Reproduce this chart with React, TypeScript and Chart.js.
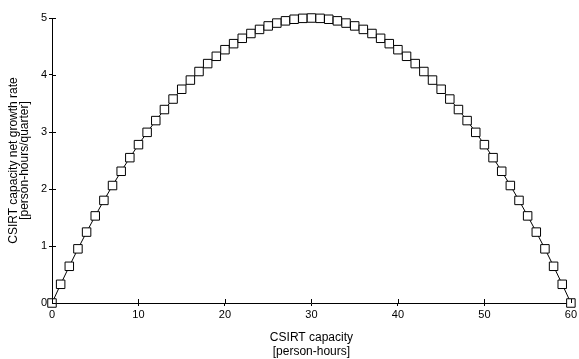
import React, { useEffect, useRef } from "react";
import { Chart, registerables } from "chart.js";

Chart.register(...registerables);

const capacity: number[] = [
  0, 1, 2, 3, 4, 5, 6, 7, 8, 9, 10, 11, 12, 13, 14, 15, 16, 17, 18, 19, 20,
  21, 22, 23, 24, 25, 26, 27, 28, 29, 30, 31, 32, 33, 34, 35, 36, 37, 38, 39, 40,
  41, 42, 43, 44, 45, 46, 47, 48, 49, 50, 51, 52, 53, 54, 55, 56, 57, 58, 59, 60,
];

const growthRate: number[] = [
  0, 0.328, 0.644, 0.95, 1.244, 1.528, 1.8, 2.061, 2.311, 2.55, 2.778,
  2.994, 3.2, 3.394, 3.578, 3.75, 3.911, 4.061, 4.2, 4.328, 4.444,
  4.55, 4.644, 4.728, 4.8, 4.861, 4.911, 4.95, 4.978, 4.994, 5.0,
  4.994, 4.978, 4.95, 4.911, 4.861, 4.8, 4.728, 4.644, 4.55, 4.444,
  4.328, 4.2, 4.061, 3.911, 3.75, 3.578, 3.394, 3.2, 2.994, 2.778,
  2.55, 2.311, 2.061, 1.8, 1.528, 1.244, 0.95, 0.644, 0.328, 0,
];

const xTitle: string[] = ["CSIRT capacity", "[person-hours]"];
const yTitle: string[] = ["CSIRT capacity net growth rate", "[person-hours/quarter]"];

const innerTicks = {
  id: "innerTicks",
  afterDraw(chart: any) {
    const ctx = chart.ctx;
    const xs = chart.scales.x;
    const ys = chart.scales.y;
    ctx.save();
    ctx.strokeStyle = "#000";
    ctx.lineWidth = 1;
    ctx.beginPath();
    xs.ticks.forEach((t: any) => {
      const px = Math.round(xs.getPixelForValue(t.value)) + 0.5;
      ctx.moveTo(px, ys.bottom);
      ctx.lineTo(px, ys.bottom - 4);
    });
    ys.ticks.forEach((t: any) => {
      const py = Math.round(ys.getPixelForValue(t.value)) + 0.5;
      ctx.moveTo(xs.left, py);
      ctx.lineTo(xs.left + 4, py);
    });
    ctx.stroke();
    ctx.restore();
  },
};

export default function App() {
  const ref = useRef<HTMLCanvasElement | null>(null);
  useEffect(() => {
    document.body.style.margin = "0";
    const font = { family: "Liberation Sans, Arial, sans-serif", size: 11 };
    const chart = new Chart(ref.current as HTMLCanvasElement, {
      type: "line",
      data: {
        datasets: [
          {
            data: capacity.map((c, i) => ({ x: c, y: growthRate[i] })),
            borderColor: "#000",
            borderWidth: 1,
            backgroundColor: "#fff",
            pointStyle: "rect",
            pointRadius: 6,
            pointBorderColor: "#000",
            pointBackgroundColor: "#fff",
            pointBorderWidth: 1,
            tension: 0,
            clip: false,
          },
        ],
      },
      options: {
        animation: false,
        responsive: false,
        layout: { padding: { top: 18, right: 7, left: 0, bottom: 0 } },
        plugins: { legend: { display: false }, tooltip: { enabled: false } },
        scales: {
          x: {
            type: "linear",
            min: 0,
            max: 60,
            afterFit: (s: any) => {
              s.height = 56;
            },
            ticks: { stepSize: 10, color: "#000", font, padding: 2 },
            grid: { drawOnChartArea: false, drawTicks: true, tickLength: 3, color: "#000" },
            border: { display: true, color: "#000", width: 1 },
            title: {
              display: true,
              text: xTitle,
              color: "#000",
              font: { family: "Liberation Sans, Arial, sans-serif", size: 12 },
              padding: { top: 4, bottom: 0 },
            },
          },
          y: {
            type: "linear",
            min: 0,
            max: 5,
            afterFit: (s: any) => {
              s.width = 52;
            },
            ticks: { stepSize: 1, color: "#000", font, padding: 2 },
            grid: { drawOnChartArea: false, drawTicks: true, tickLength: 3, color: "#000" },
            border: { display: true, color: "#000", width: 1 },
            title: {
              display: true,
              text: yTitle,
              color: "#000",
              font: { family: "Liberation Sans, Arial, sans-serif", size: 12, lineHeight: 0.9 },
              padding: { top: 8, bottom: 4 },
            },
          },
        },
      },
      plugins: [innerTicks],
    });
    return () => chart.destroy();
  }, []);
  return <canvas ref={ref} width={579} height={359} style={{ display: "block" }} />;
}
